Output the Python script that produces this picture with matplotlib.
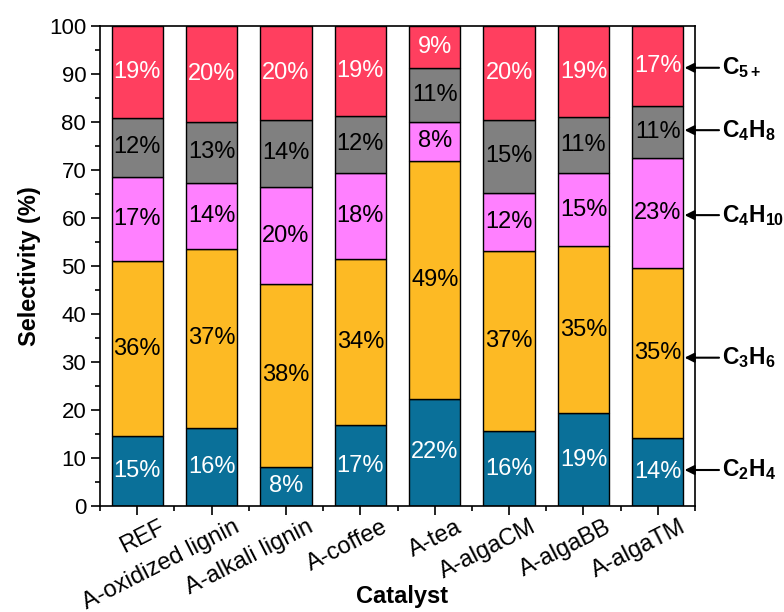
import numpy as np
import matplotlib
matplotlib.use("Agg")
import matplotlib.pyplot as plt
import matplotlib.transforms as mtransforms
from matplotlib.ticker import MultipleLocator

plt.rcParams['font.family'] = ['Liberation Sans', 'DejaVu Sans']

catalysts = ["REF", "A-oxidized lignin", "A-alkali lignin", "A-coffee",
             "A-tea", "A-algaCM", "A-algaBB", "A-algaTM"]

# segment heights (%)
c2h4 = [14.6, 16.3, 8.2, 16.8, 22.3, 15.6, 19.3, 14.2]
c3h6 = [36.4, 37.2, 38.0, 34.6, 49.6, 37.5, 34.9, 35.4]
c4h10 = [17.5, 13.8, 20.3, 18.0, 8.1, 12.2, 15.1, 22.8]
c4h8 = [12.4, 12.7, 14.0, 11.9, 11.3, 15.1, 11.7, 11.0]
c5 = [19.1, 20.0, 19.5, 18.7, 8.7, 19.6, 19.0, 16.6]

# printed labels
lab_c2h4 = ["15%", "16%", "8%", "17%", "22%", "16%", "19%", "14%"]
lab_c3h6 = ["36%", "37%", "38%", "34%", "49%", "37%", "35%", "35%"]
lab_c4h10 = ["17%", "14%", "20%", "18%", "8%", "12%", "15%", "23%"]
lab_c4h8 = ["12%", "13%", "14%", "12%", "11%", "15%", "11%", "11%"]
lab_c5 = ["19%", "20%", "20%", "19%", "9%", "20%", "19%", "17%"]

species = [r"$\mathregular{C_{2}H_{4}}$", r"$\mathregular{C_{3}H_{6}}$",
           r"$\mathregular{C_{4}H_{10}}$", r"$\mathregular{C_{4}H_{8}}$",
           r"$\mathregular{C_{5+}}$"]
arrow_y = [7.5, 30.9, 60.6, 78.3, 91.3]

series = [c2h4, c3h6, c4h10, c4h8, c5]
labels = [lab_c2h4, lab_c3h6, lab_c4h10, lab_c4h8, lab_c5]
colors = ["#0A7099", "#FDBA24", "#FF80FF", "#808080", "#FF3F5F"]
txt_colors = ["white", "black", "black", "black", "white"]

fig = plt.figure(figsize=(7.84, 6.12), dpi=100)
ax = fig.add_axes([0.1276, 0.1732, 0.7589, 0.7843])

x = np.arange(len(catalysts))
bottom = np.zeros(len(catalysts))
for vals, labs, col, tc in zip(series, labels, colors, txt_colors):
    vals = np.array(vals)
    ax.bar(x, vals, width=0.69, bottom=bottom, color=col, edgecolor="black", linewidth=1)
    for xi, b, v, l in zip(x, bottom, vals, labs):
        ax.text(xi, b + v / 2, l, ha="center", va="center", fontsize=17, color=tc)
    bottom += vals

ax.set_xlim(-0.5, 7.5)
ax.set_ylim(0, 100)
ax.set_xticks(x)
ax.set_xticklabels([])
# category labels, rotated and shifted like the original
shift = mtransforms.ScaledTranslation(0.21, -0.10, fig.dpi_scale_trans)
for xi, name in zip(x, catalysts):
    ax.text(xi, 0, name, transform=ax.get_xaxis_transform() + shift, rotation=27,
            ha="right", va="top", rotation_mode="anchor", fontsize=17)
ax.xaxis.set_minor_locator(MultipleLocator(0.5))
ax.yaxis.set_major_locator(MultipleLocator(10))
ax.yaxis.set_minor_locator(MultipleLocator(5))
ax.tick_params(axis="both", which="major", direction="out", length=6.5, width=1.2, labelsize=16)
ax.tick_params(axis="both", which="minor", direction="out", length=3.5, width=1.2)
ax.tick_params(top=False, right=False)
for s in ax.spines.values():
    s.set_linewidth(1.2)

ax.set_ylabel("Selectivity (%)", fontsize=17, fontweight="bold", labelpad=6)
fig.text(402 / 784, 1 - 597 / 612, "Catalyst", fontsize=17, fontweight="bold",
         ha="center", va="center")

for name, yv in zip(species, arrow_y):
    ax.annotate(name, xy=(7.36, yv), xytext=(7.86, yv), xycoords="data", textcoords="data",
                fontsize=16.5, fontweight="bold", va="center", ha="left", annotation_clip=False,
                arrowprops=dict(arrowstyle="-|>", color="black", lw=1.5, mutation_scale=14,
                                shrinkA=0, shrinkB=0))

fig.savefig("out.png", dpi=100)
